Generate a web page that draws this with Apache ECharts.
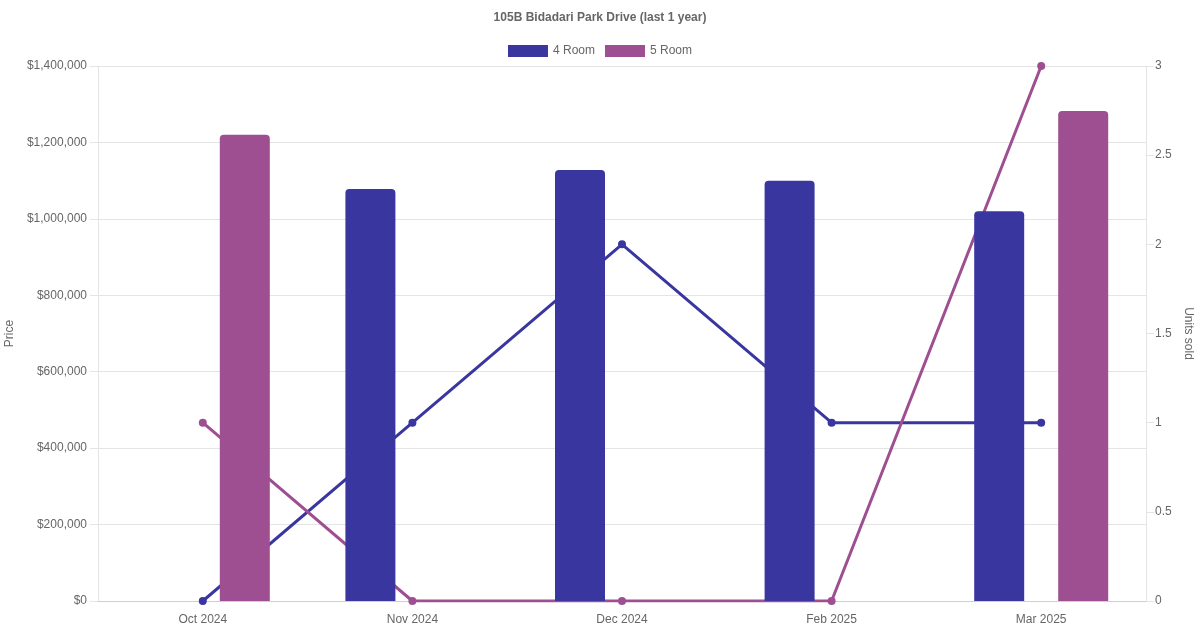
<!DOCTYPE html>
<html lang="en">
<head>
  <meta charset="UTF-8">
  <title>105B Bidadari Park Drive</title>
  <style>
    * { padding: 0; margin: 0; }
    #charts { width: 1200px; height: 630px; background: #fff; }
  </style>
</head>
<body>
  <div id="charts"></div>
</body>
<script src="https://cdn.jsdelivr.net/npm/echarts@6/dist/echarts.min.js" type="text/javascript"></script>
<script type="text/javascript">
  var months = ['Oct 2024', 'Nov 2024', 'Dec 2024', 'Feb 2025', 'Mar 2025']
  // median price per month (null = no sale)
  var price4Room = [null, 1078000, 1128000, 1100000, 1020000]
  var price5Room = [1220000, null, null, null, 1282000]
  // units sold per month
  var units4Room = [0, 1, 2, 1, 1]
  var units5Room = [1, 0, 0, 0, 3]
  var priceTicks = { min: 0, max: 1400000, interval: 200000 }
  var unitTicks = { min: 0, max: 3, interval: 0.5 }

  var blue = '#3a36a0', purple = '#9e4f92'
  var font = "'Liberation Sans', Arial, Helvetica, sans-serif"
  var myChart = echarts.init(document.getElementById('charts'))

  function money(v) {
    return '$' + v.toString().replace(/\B(?=(\d{3})+(?!\d))/g, ',')
  }

  var option = {
    animation: false,
    textStyle: { fontFamily: font },
    title: {
      text: '105B Bidadari Park Drive (last 1 year)',
      left: 'center',
      top: 7,
      textStyle: { fontSize: 12, fontWeight: 'bold', color: '#666', fontFamily: font }
    },
    legend: {
      top: 40,
      left: 'center',
      data: ['4 Room', '5 Room'],
      icon: 'rect',
      itemWidth: 40,
      itemHeight: 12,
      itemGap: 10,
      textStyle: { fontSize: 12, color: '#666', fontFamily: font }
    },
    grid: { left: 98, right: 54, top: 66, bottom: 29, outerBoundsMode: 'none', containLabel: false },
    xAxis: {
      type: 'category',
      data: months,
      axisLine: { lineStyle: { color: '#cfcfcf' } },
      axisTick: { show: false },
      axisLabel: { color: '#666', fontSize: 12, margin: 13 },
      splitLine: { show: false }
    },
    yAxis: [{
      type: 'value',
      min: priceTicks.min,
      max: priceTicks.max,
      interval: priceTicks.interval,
      name: 'Price',
      nameLocation: 'middle',
      nameRotate: 90,
      nameGap: 77,
      nameTextStyle: { color: '#666', fontSize: 12 },
      axisLine: { show: true, lineStyle: { color: '#e4e4e4' } },
      axisTick: { show: true, length: 8, lineStyle: { color: '#e4e4e4' } },
      axisLabel: { color: '#666', fontSize: 12, margin: 11, formatter: money },
      splitLine: { lineStyle: { color: '#e4e4e4' } }
    }, {
      type: 'value',
      position: 'right',
      min: unitTicks.min,
      max: unitTicks.max,
      interval: unitTicks.interval,
      name: 'Units sold',
      nameLocation: 'middle',
      nameRotate: -90,
      nameGap: 34,
      nameTextStyle: { color: '#666', fontSize: 12 },
      axisLine: { show: true, lineStyle: { color: '#e4e4e4' } },
      axisTick: { show: true, length: 8, lineStyle: { color: '#e4e4e4' } },
      axisLabel: { color: '#666', fontSize: 12, margin: 9 },
      splitLine: { show: false }
    }],
    series: [{
      name: '4 Room',
      type: 'bar',
      data: price4Room,
      barWidth: 50,
      barGap: '68%',
      z: 3,
      itemStyle: { color: blue, borderRadius: [4, 4, 0, 0] }
    }, {
      name: '5 Room',
      type: 'bar',
      data: price5Room,
      barWidth: 50,
      barGap: '68%',
      z: 3,
      itemStyle: { color: purple, borderRadius: [4, 4, 0, 0] }
    }, {
      name: '4 Room',
      type: 'line',
      yAxisIndex: 1,
      data: units4Room,
      z: 1,
      symbol: 'circle',
      symbolSize: 8,
      lineStyle: { color: blue, width: 3 },
      itemStyle: { color: blue }
    }, {
      name: '5 Room',
      type: 'line',
      yAxisIndex: 1,
      data: units5Room,
      z: 1,
      symbol: 'circle',
      symbolSize: 8,
      lineStyle: { color: purple, width: 3 },
      itemStyle: { color: purple }
    }]
  }
  myChart.setOption(option)
</script>
</html>
